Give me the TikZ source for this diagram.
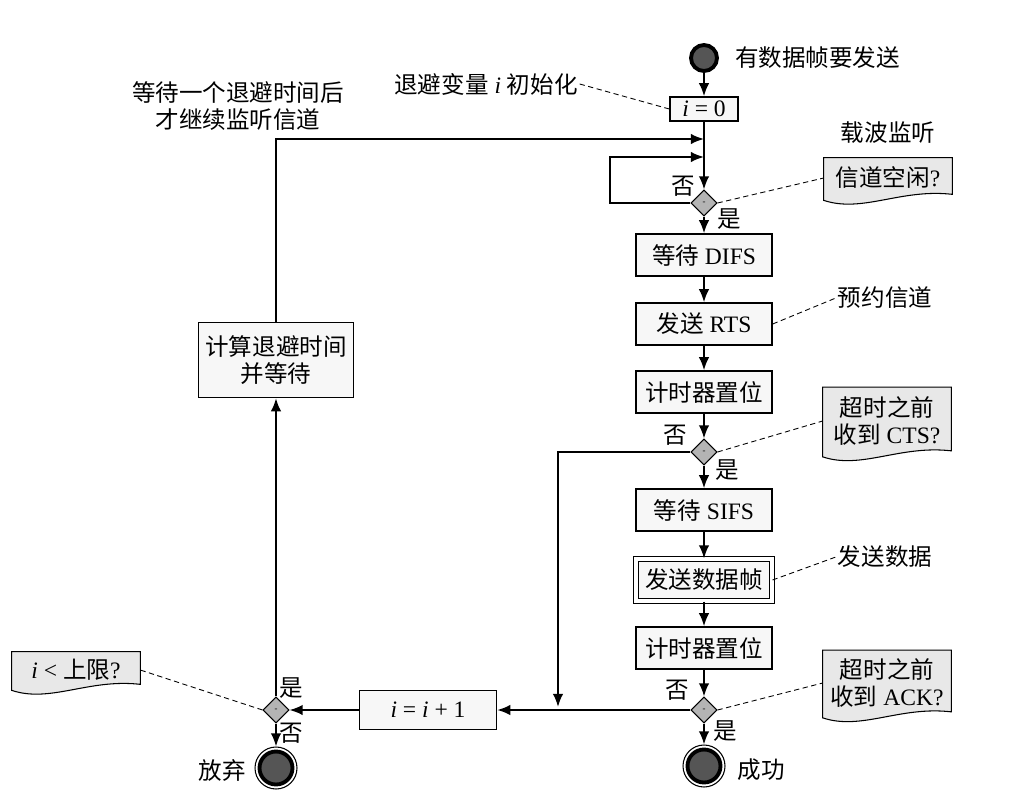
\documentclass[tikz,border=0pt]{standalone}
\usepackage{fontspec}
\setmainfont{Liberation Serif}
\newfontfamily\cjk{Noto Sans CJK SC}
\usetikzlibrary{arrows.meta,shapes.geometric,calc,backgrounds}
\newcommand\zh[1]{{\cjk #1}}
\definecolor{cBox}{RGB}{247,247,247}
\definecolor{cNote}{RGB}{232,232,232}
\definecolor{cDiam}{RGB}{180,180,180}
\definecolor{cDot}{RGB}{85,85,85}
% note with a wavy lower edge, drawn behind the named text node
\newcommand\notebg[1]{%
  \path[fill=cNote,draw,line width=0.6pt] (#1.north west) -- (#1.north east) -- ($(#1.south east)+(0,0.08cm)$)
    .. controls ($(#1.south west)!0.6!(#1.south east)+(0,0.2cm)$) and ($(#1.south west)!0.3!(#1.south east)+(0,-0.3cm)$)
    .. ($(#1.south west)+(0,-0.04cm)$) -- cycle;}

\begin{document}
\begin{tikzpicture}[x=0.02cm,y=-0.02cm,
  txt/.style={font=\fontsize{13.4}{15.5}\selectfont,inner sep=1pt},
  stepbox/.style={txt,draw,line width=0.8pt,fill=cBox,minimum width=2.72cm,minimum height=0.84cm,inner sep=2pt},
  databox/.style={stepbox,double=white,double distance=1.8pt,line width=0.6pt},
  notebox/.style={txt,align=center,minimum width=2.56cm},
  choice/.style={diamond,draw,line width=0.6pt,fill=cDiam,minimum size=0.52cm,inner sep=0pt,font=\tiny},
  startdot/.style={circle,draw,line width=2.2pt,fill=cDot,minimum size=0.52cm,inner sep=0pt},
  enddot/.style={circle,draw,line width=0.6pt,fill=white,minimum size=0.84cm,inner sep=0pt,
    path picture={\draw[line width=2.2pt,fill=cDot] (path picture bounding box.center) circle (0.33cm);}},
  flow/.style={line width=1.1pt,-{Latex[length=7.5pt,width=6pt]}},
  link/.style={line width=0.5pt,dash pattern=on 3pt off 2pt}]
\useasboundingbox (0,0) rectangle (1024,808);

% main column
\node[startdot] (start) at (704,58) {};
\node[txt,anchor=west] (startlbl) at (733,58) {\zh{有数据帧要发送}};
\node[stepbox,minimum width=1.36cm,minimum height=0.48cm] (i0) at (704,109) {\textit{i} = 0};
\node[txt] (initlbl) at (486,84) {\zh{退避变量} \textit{i} \zh{初始化}};
\node[choice] (d1) at (704,203) {-};
\node[stepbox] (difs) at (704,255) {\zh{等待} DIFS};
\node[stepbox] (rts) at (704,324) {\zh{发送} RTS};
\node[stepbox] (tmr1) at (704,392) {\zh{计时器置位}};
\node[choice] (d2) at (704,452) {-};
\node[stepbox] (sifs) at (704,510) {\zh{等待} SIFS};
\node[databox] (data) at (704,580) {\zh{发送数据帧}};
\node[stepbox] (tmr2) at (704,648) {\zh{计时器置位}};
\node[choice] (d3) at (704,710) {-};
\node[enddot] (succ) at (704,766) {};
\node[txt] (succlbl) at (761,770) {\zh{成功}};

% left column
\node[stepbox,minimum width=2.74cm,minimum height=0.78cm] (inc) at (428,710) {\textit{i} = \textit{i} + 1};
\node[choice] (d4) at (276,710) {-};
\node[enddot] (abort) at (276,768) {};
\node[txt] (abortlbl) at (222,770) {\zh{放弃}};
\node[stepbox,align=center,minimum width=3.1cm,minimum height=1.5cm] (backoff) at (276,360) {\zh{计算退避时间}\\\zh{并等待}};
\node[txt,align=center] (waitlbl) at (238,106) {\zh{等待一个退避时间后}\\\zh{才继续监听信道}};

% yes / no
\node[txt] (d1no) at (683,186) {\zh{否}};
\node[txt] (d1yes) at (729,219) {\zh{是}};
\node[txt] (d2no) at (675,435) {\zh{否}};
\node[txt] (d2yes) at (727,470) {\zh{是}};
\node[txt] (d3no) at (677,690) {\zh{否}};
\node[txt] (d3yes) at (725,731) {\zh{是}};
\node[txt] (d4yes) at (291,688) {\zh{是}};
\node[txt] (d4no) at (291,733) {\zh{否}};

% notes
\node[txt] (senselbl) at (888,133) {\zh{载波监听}};
\node[notebox,minimum height=0.8cm] (n1) at (888,178) {\zh{信道空闲}?};
\node[txt] (rsvlbl) at (885,298) {\zh{预约信道}};
\node[notebox,minimum height=1.34cm] (n2) at (887,421) {\zh{超时之前}\\\zh{收到} CTS?};
\node[txt] (sendlbl) at (885,557) {\zh{发送数据}};
\node[notebox,minimum height=1.3cm] (n3) at (887,683) {\zh{超时之前}\\\zh{收到} ACK?};
\node[notebox,minimum height=0.72cm] (n4) at (76,670) {\textit{i} < \zh{上限}?};
\begin{scope}[on background layer]
\notebg{n1}
\notebg{n2}
\notebg{n3}
\notebg{n4}
\end{scope}

% connectors
\coordinate (backin) at (704,139);
\coordinate (loopin) at (704,157);
\coordinate (loopx) at (610,180);
\coordinate (ctsin) at (558,707);
\draw[flow] (start) -- (i0);
\draw[flow] (i0) -- (d1);
\draw[flow] (d1.west) -| (loopx) |- (loopin);
\draw[flow] (backoff.north) |- (backin);
\draw[flow] (d1) -- (difs);
\draw[flow] (difs) -- (rts);
\draw[flow] (rts) -- (tmr1);
\draw[flow] (tmr1) -- (d2);
\draw[flow] (d2) -- (sifs);
\draw[flow] (d2.west) -| (ctsin);
\draw[flow] (sifs) -- (data);
\draw[flow] (data) -- (tmr2);
\draw[flow] (tmr2) -- (d3);
\draw[flow] (d3) -- (succ);
\draw[flow] (d3) -- (inc);
\draw[flow] (inc) -- (d4);
\draw[flow] (d4) -- (backoff);
\draw[flow] (d4) -- (abort);

% dashed pointers
\draw[link] (initlbl.east) -- (i0.west);
\draw[link] (d1.east) -- (n1.west);
\draw[link] (rts.east) -- (rsvlbl.west);
\draw[link] (d2.east) -- (n2.west);
\draw[link] (data.east) -- (sendlbl.west);
\draw[link] (d3.east) -- (n3.west);
\draw[link] (d4.west) -- (n4.east);
\end{tikzpicture}
\end{document}
